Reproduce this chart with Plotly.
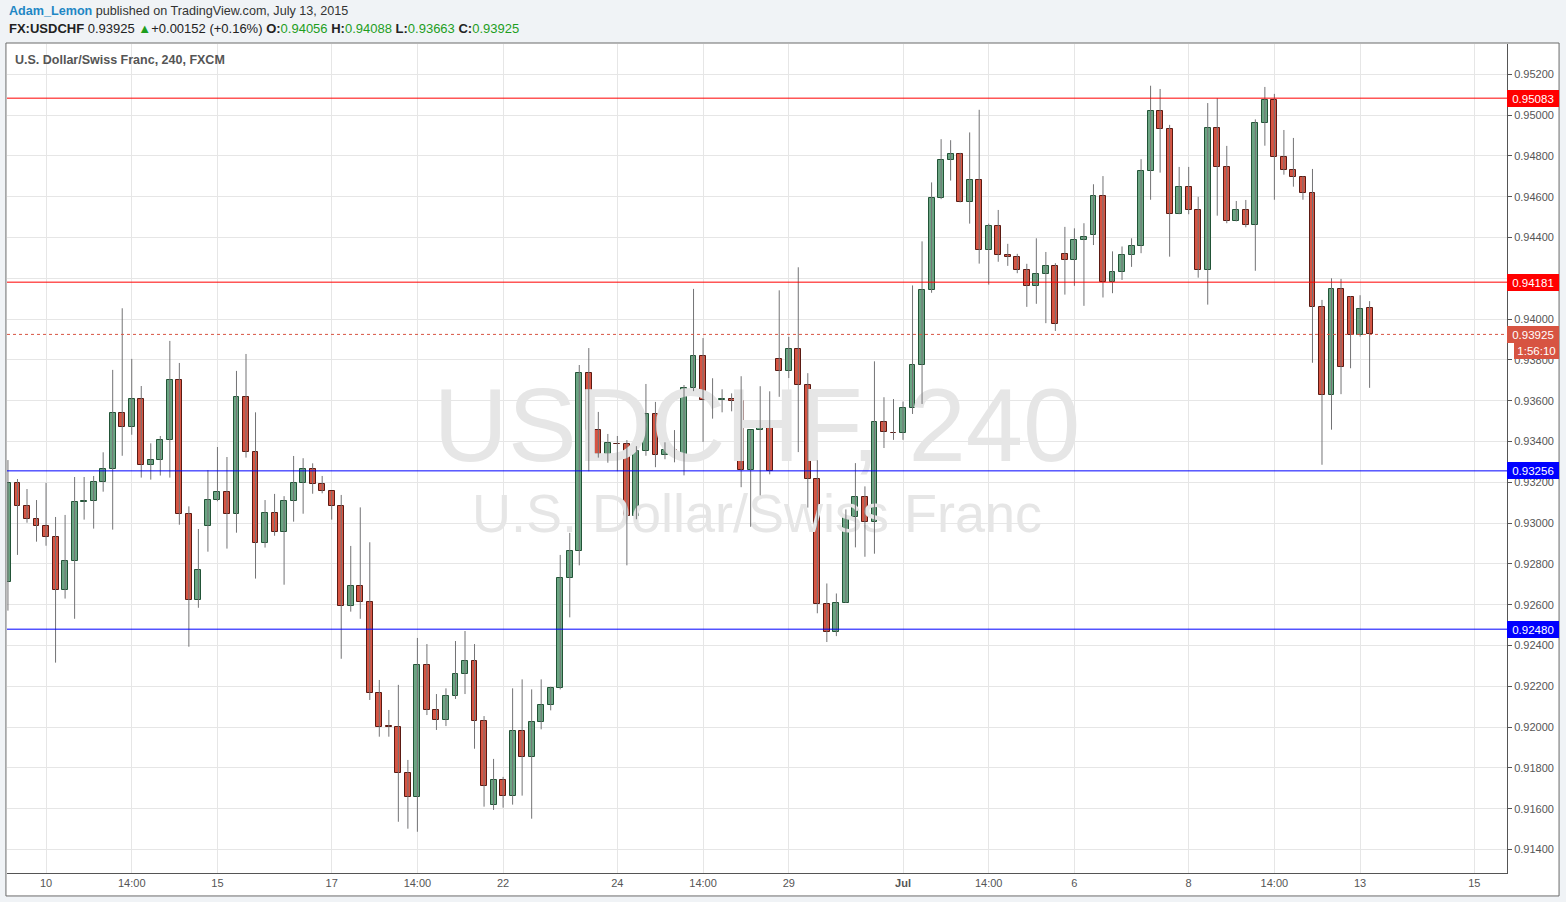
import plotly.graph_objects as go

# ---------------- data (USD/CHF, 4h candles) ----------------
opens = [0.92710, 0.93195, 0.93082, 0.93019, 0.92984, 0.92930, 0.92671, 0.92813, 0.93103, 0.93107,
         0.93200, 0.93264, 0.93538, 0.93470, 0.93607, 0.93283, 0.93308, 0.93406, 0.93700, 0.93043,
         0.92621, 0.92984, 0.93112, 0.93152, 0.93043, 0.93617, 0.93347, 0.92901, 0.93048, 0.92955,
         0.93107, 0.93195, 0.93264, 0.93190, 0.93156, 0.93082, 0.92592, 0.92690, 0.92612, 0.92166,
         0.92004, 0.91999, 0.91774, 0.91656, 0.92303, 0.92084, 0.92035, 0.92151, 0.92259, 0.92323,
         0.92028, 0.91617, 0.91739, 0.91662, 0.91979, 0.91852, 0.92024, 0.92107, 0.92190, 0.92730,
         0.92862, 0.93734, 0.93456, 0.93337, 0.93389, 0.93386, 0.93033, 0.93352, 0.93533, 0.93332,
         0.93357, 0.93328, 0.93661, 0.93818, 0.93600, 0.93602, 0.93607, 0.93597, 0.93259, 0.93455,
         0.93470, 0.93803, 0.93748, 0.93855, 0.93679, 0.93218, 0.92604, 0.92468, 0.92609, 0.93030,
         0.93129, 0.93007, 0.93497, 0.93443, 0.93441, 0.93566, 0.93773, 0.94145, 0.94596, 0.94779,
         0.94808, 0.94572, 0.94681, 0.94341, 0.94454, 0.94312, 0.94302, 0.94243, 0.94160, 0.94220,
         0.94258, 0.94318, 0.94290, 0.94390, 0.94410, 0.94601, 0.94184, 0.94229, 0.94312, 0.94356,
         0.94725, 0.95019, 0.94930, 0.94514, 0.94646, 0.94533, 0.94239, 0.94935, 0.94744, 0.94479,
         0.94533, 0.94460, 0.94960, 0.95073, 0.94793, 0.94730, 0.94695, 0.94617, 0.94058, 0.93627,
         0.94146, 0.94107, 0.93921, 0.94056]
highs = [0.93309, 0.93216, 0.93167, 0.93113, 0.93197, 0.93030, 0.93040, 0.93226, 0.93226, 0.93231,
         0.93347, 0.93751, 0.94053, 0.93805, 0.93672, 0.93391, 0.93427, 0.93893, 0.93785, 0.93082,
         0.92971, 0.93260, 0.93373, 0.93324, 0.93746, 0.93829, 0.93543, 0.93113, 0.93143, 0.93132,
         0.93329, 0.93318, 0.93293, 0.93231, 0.93156, 0.93138, 0.92888, 0.93077, 0.92906, 0.92231,
         0.92084, 0.92207, 0.91839, 0.92437, 0.92407, 0.92162, 0.92190, 0.92422, 0.92471, 0.92407,
         0.92054, 0.91844, 0.91756, 0.92190, 0.92234, 0.92185, 0.92234, 0.92198, 0.92844, 0.92952,
         0.93775, 0.93858, 0.93545, 0.93437, 0.93427, 0.93407, 0.93377, 0.93682, 0.93594, 0.93396,
         0.93456, 0.93677, 0.94148, 0.93907, 0.93710, 0.93656, 0.93636, 0.93720, 0.93456, 0.93671,
         0.93646, 0.94141, 0.93913, 0.94254, 0.93735, 0.93308, 0.92704, 0.92655, 0.93067, 0.93294,
         0.93180, 0.93793, 0.93617, 0.93608, 0.93596, 0.94165, 0.94381, 0.94670, 0.94882, 0.94877,
         0.94815, 0.94915, 0.95026, 0.94468, 0.94535, 0.94369, 0.94320, 0.94271, 0.94396, 0.94329,
         0.94274, 0.94452, 0.94445, 0.94470, 0.94661, 0.94701, 0.94332, 0.94356, 0.94396, 0.94784,
         0.95144, 0.95128, 0.94952, 0.94746, 0.94746, 0.94599, 0.95059, 0.95083, 0.94849, 0.94579,
         0.94584, 0.94979, 0.95138, 0.95104, 0.94927, 0.94888, 0.94700, 0.94736, 0.94094, 0.94200,
         0.94197, 0.94112, 0.94117, 0.94088]
lows = [0.92571, 0.92844, 0.93002, 0.92909, 0.92889, 0.92316, 0.92630, 0.92531, 0.93017, 0.92973,
        0.93154, 0.92968, 0.93330, 0.93433, 0.93223, 0.93213, 0.93233, 0.93223, 0.92992, 0.92394,
        0.92585, 0.92860, 0.93107, 0.92875, 0.92953, 0.93321, 0.92728, 0.92880, 0.92938, 0.92698,
        0.93007, 0.93046, 0.93144, 0.93146, 0.93017, 0.92335, 0.92566, 0.92531, 0.92133, 0.91953,
        0.91953, 0.91536, 0.91502, 0.91487, 0.92059, 0.91986, 0.92005, 0.92138, 0.92162, 0.91894,
        0.91610, 0.91594, 0.91605, 0.91620, 0.91664, 0.91551, 0.91989, 0.92082, 0.92185, 0.92538,
        0.92793, 0.93254, 0.93321, 0.93296, 0.93254, 0.92793, 0.93019, 0.93330, 0.93274, 0.93313,
        0.93298, 0.93234, 0.93647, 0.93398, 0.93512, 0.93543, 0.93548, 0.93176, 0.92982, 0.93136,
        0.93239, 0.93619, 0.93711, 0.93348, 0.93076, 0.92558, 0.92417, 0.92446, 0.92609, 0.92881,
        0.92835, 0.92850, 0.93368, 0.93408, 0.93408, 0.93535, 0.93584, 0.94129, 0.94588, 0.94679,
        0.94572, 0.94468, 0.94272, 0.94169, 0.94281, 0.94261, 0.94225, 0.94060, 0.94075, 0.93980,
        0.93942, 0.94120, 0.94163, 0.94065, 0.94363, 0.94106, 0.94127, 0.94192, 0.94256, 0.94323,
        0.94585, 0.94718, 0.94306, 0.94514, 0.94514, 0.94203, 0.94071, 0.94507, 0.94470, 0.94479,
        0.94450, 0.94237, 0.94850, 0.94585, 0.94708, 0.94649, 0.94585, 0.93786, 0.93286, 0.93458,
        0.93632, 0.93759, 0.93914, 0.93663]
closes = [0.93195, 0.93082, 0.93019, 0.92984, 0.92930, 0.92671, 0.92813, 0.93102, 0.93107, 0.93200,
          0.93264, 0.93538, 0.93470, 0.93607, 0.93283, 0.93308, 0.93406, 0.93700, 0.93043, 0.92621,
          0.92769, 0.93112, 0.93152, 0.93043, 0.93617, 0.93347, 0.92901, 0.93048, 0.92955, 0.93107,
          0.93195, 0.93264, 0.93190, 0.93156, 0.93082, 0.92592, 0.92690, 0.92612, 0.92167, 0.92002,
          0.92001, 0.91774, 0.91656, 0.92303, 0.92084, 0.92035, 0.92151, 0.92259, 0.92323, 0.92028,
          0.91711, 0.91739, 0.91662, 0.91979, 0.91852, 0.92024, 0.92107, 0.92190, 0.92730, 0.92862,
          0.93734, 0.93456, 0.93337, 0.93391, 0.93386, 0.93033, 0.93352, 0.93533, 0.93332, 0.93357,
          0.93328, 0.93661, 0.93818, 0.93602, 0.93603, 0.93607, 0.93597, 0.93259, 0.93455, 0.93470,
          0.93254, 0.93748, 0.93855, 0.93679, 0.93218, 0.92604, 0.92468, 0.92609, 0.93030, 0.93129,
          0.93007, 0.93497, 0.93445, 0.93440, 0.93566, 0.93773, 0.94145, 0.94596, 0.94779, 0.94808,
          0.94572, 0.94681, 0.94341, 0.94454, 0.94312, 0.94302, 0.94243, 0.94160, 0.94220, 0.94258,
          0.93978, 0.94290, 0.94390, 0.94401, 0.94601, 0.94184, 0.94229, 0.94312, 0.94356, 0.94725,
          0.95019, 0.94930, 0.94514, 0.94646, 0.94533, 0.94239, 0.94935, 0.94744, 0.94479, 0.94533,
          0.94460, 0.94960, 0.95073, 0.94793, 0.94730, 0.94695, 0.94617, 0.94058, 0.93627, 0.94146,
          0.93764, 0.93921, 0.94048, 0.93925]

tick_pos = [4, 13, 22, 34, 43, 52, 64, 73, 82, 94, 103, 112, 124, 133, 142, 154]
tick_text = ["10", "14:00", "15", "17", "14:00", "22", "24", "14:00", "29", "<b>Jul</b>",
             "14:00", "6", "8", "14:00", "13", "15"]

resistance_levels = [0.95083, 0.94181]
support_levels = [0.92480, 0.93256]
last_price = 0.93925
countdown = "1:56:10"

# ---------------- styling constants ----------------
UP_FILL, UP_LINE = "#6ba583", "#225437"
DN_FILL, DN_LINE = "#d75442", "#5b1a13"
WICK = "#737375"
GRID = "#e6e6e6"
AXIS = "#555555"
BG = "#f0f3f6"
FONT = "Liberation Sans, Arial, sans-serif"

X_RANGE = [-0.1, 157.43]
Y_RANGE = [0.912848, 0.953485]

idx = list(range(len(opens)))
up = [i for i in idx if closes[i] >= opens[i]]
dn = [i for i in idx if closes[i] < opens[i]]

fig = go.Figure()

# watermark (drawn first so it sits behind candles)
xmid = (X_RANGE[0] + X_RANGE[1]) / 2
fig.add_trace(go.Scatter(x=[xmid], y=[0.93432], mode="text", text=["USDCHF, 240"],
                         textfont=dict(family=FONT, size=103, color="#e6e6e6"),
                         textposition="middle center", hoverinfo="skip"))
fig.add_trace(go.Scatter(x=[xmid], y=[0.93025], mode="text", text=["U.S. Dollar/Swiss Franc"],
                         textfont=dict(family=FONT, size=54, color="#e6e6e6"),
                         textposition="middle center", hoverinfo="skip"))

# wicks
wx, wy = [], []
for i in idx:
    wx += [i, i, None]
    wy += [lows[i], highs[i], None]
fig.add_trace(go.Scatter(x=wx, y=wy, mode="lines", line=dict(color=WICK, width=1),
                         hoverinfo="skip"))

# bodies
def body(ids, fill, line):
    return go.Bar(x=ids,
                  base=[min(opens[i], closes[i]) for i in ids],
                  y=[abs(closes[i] - opens[i]) for i in ids],
                  width=0.62, marker=dict(color=fill, line=dict(color=line, width=1)),
                  hoverinfo="skip")

fig.add_trace(body(up, UP_FILL, UP_LINE))
fig.add_trace(body(dn, DN_FILL, DN_LINE))

shapes = []
# white chart panel
shapes.append(dict(type="rect", xref="paper", yref="paper", x0=-0.0007, x1=1.0347,
                   y0=-0.0277, y1=1.0012, line=dict(color="#6b6b6b", width=1),
                   fillcolor="white", layer="below"))
for lv in resistance_levels:
    shapes.append(dict(type="line", xref="paper", yref="y", x0=0, x1=1, y0=lv, y1=lv,
                       line=dict(color="#ff0000", width=1)))
for lv in support_levels:
    shapes.append(dict(type="line", xref="paper", yref="y", x0=0, x1=1, y0=lv, y1=lv,
                       line=dict(color="#0000ff", width=1)))
shapes.append(dict(type="line", xref="paper", yref="y", x0=0, x1=1, y0=last_price, y1=last_price,
                   line=dict(color="#d75442", width=1, dash="dot")))

annotations = []

def price_label(val, bg, text=None, yshift=0, xshift=0, width=48):
    return dict(xref="paper", yref="y", x=1, y=val, xanchor="left", yanchor="middle",
                xshift=xshift, yshift=yshift, showarrow=False,
                text=text if text is not None else f"{val:.5f}",
                font=dict(family=FONT, size=11.5, color="white"),
                bgcolor=bg, bordercolor=bg, borderpad=1, width=width, height=13, align="center")

for lv in resistance_levels:
    annotations.append(price_label(lv, "#ff0000"))
for lv in support_levels:
    annotations.append(price_label(lv, "#0000ff"))
annotations.append(price_label(last_price, "#d75442"))
annotations.append(price_label(last_price, "#d75442", text=countdown, yshift=-16, xshift=7, width=41))

# header lines
annotations.append(dict(xref="paper", yref="paper", x=0, y=1.0398, xanchor="left", yanchor="middle",
                        showarrow=False, align="left",
                        font=dict(family=FONT, size=12.6, color="#333333"),
                        text="<b><span style='color:#1f87c5'>Adam_Lemon</span></b> published on TradingView.com, July 13, 2015"))
g = "#1e9e1e"
annotations.append(dict(xref="paper", yref="paper", x=0, y=1.0181, xanchor="left", yanchor="middle",
                        showarrow=False, align="left",
                        font=dict(family=FONT, size=13, color="#222222"),
                        text=(f"<b>FX:USDCHF</b> {last_price:.5f} <span style='color:{g}'>▲</span>+0.00152 (+0.16%) "
                              f"<b>O:</b><span style='color:{g}'>{opens[-1]:.5f}</span> "
                              f"<b>H:</b><span style='color:{g}'>{highs[-1]:.5f}</span> "
                              f"<b>L:</b><span style='color:{g}'>{lows[-1]:.5f}</span> "
                              f"<b>C:</b><span style='color:{g}'>{closes[-1]:.5f}</span>")))
# chart title inside the panel
annotations.append(dict(xref="paper", yref="paper", x=0.0053, y=0.9807, xanchor="left", yanchor="middle",
                        xshift=-2, showarrow=False, font=dict(family=FONT, size=12.5, color="#555555"),
                        text="<b>U.S. Dollar/Swiss Franc, 240, FXCM</b>"))

fig.update_layout(
    width=1566, height=902, autosize=False,
    margin=dict(l=7, r=59, t=44, b=29, pad=0),
    paper_bgcolor=BG, plot_bgcolor="white",
    showlegend=False, barmode="overlay", bargap=0,
    shapes=shapes, annotations=annotations,
    xaxis=dict(range=X_RANGE, tickmode="array", tickvals=tick_pos, ticktext=tick_text,
               showgrid=True, gridcolor=GRID, gridwidth=1, zeroline=False,
               showline=True, linecolor=AXIS, linewidth=1, ticks="",
               tickfont=dict(family=FONT, size=11, color="#555555"), fixedrange=True),
    yaxis=dict(side="right", range=Y_RANGE, tick0=0.914, dtick=0.002, tickformat=".5f",
               showgrid=True, gridcolor=GRID, gridwidth=1, zeroline=False,
               showline=True, linecolor=AXIS, linewidth=1,
               ticks="outside", ticklen=4, tickcolor=AXIS,
               tickfont=dict(family=FONT, size=11, color="#555555"), fixedrange=True),
)

fig.write_html("out.html", config={"displayModeBar": False},
               post_script="document.body.style.margin='0px';document.body.style.overflow='hidden';")
